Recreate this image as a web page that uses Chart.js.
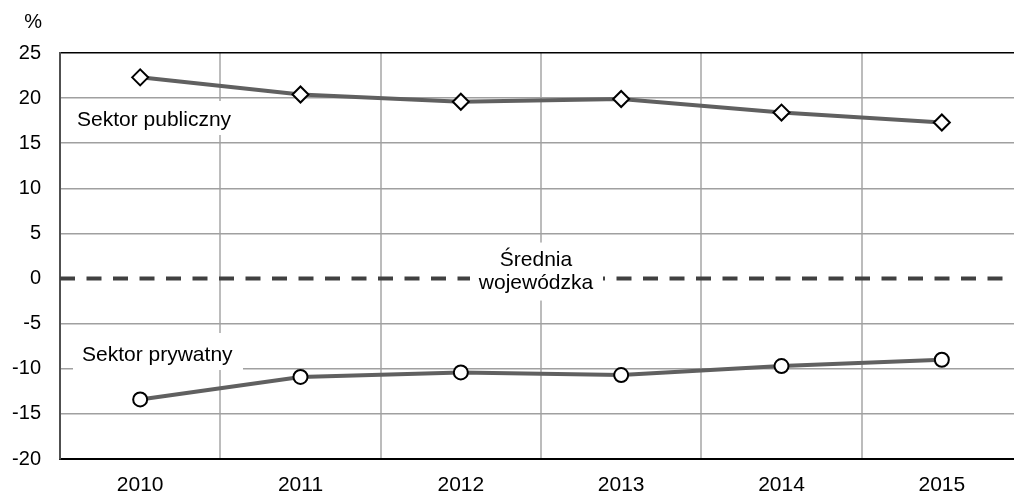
<!DOCTYPE html>
<html>
<head>
<meta charset="utf-8">
<script src="https://cdn.jsdelivr.net/npm/chart.js@4/dist/chart.umd.min.js"></script>
<style>
  html, body { margin: 0; padding: 0; background: #fff; overflow: hidden; }
  #wrap { position: absolute; left: 0; top: 0; width: 1032px; height: 494px; }
</style>
</head>
<body>
<div id="wrap"><canvas id="myChart" width="1032" height="494" style="width:1032px;height:494px"></canvas></div>
<script>
const years = ['2010', '2011', '2012', '2013', '2014', '2015']
const publicSector = [22.3, 20.4, 19.6, 19.9, 18.4, 17.3]
const privateSector = [-13.4, -10.9, -10.4, -10.7, -9.7, -9.0]
const yMin = -20
const yMax = 25
const yStep = 5

const FONT = '"Liberation Sans", Arial, sans-serif'

// dashed average line + text boxes drawn over the grid, under the lines
const notes = {
    id: 'notes',
    beforeDatasetsDraw(chart) {
        const ctx = chart.ctx
        const area = chart.chartArea
        const x = chart.scales.x
        const y = chart.scales.y
        const y0 = y.getPixelForValue(0)

        ctx.save()
        ctx.strokeStyle = '#404040'
        ctx.lineWidth = 4
        ctx.setLineDash([15, 11.5])
        ctx.beginPath()
        ctx.moveTo(area.left, y0)
        ctx.lineTo(area.right, y0)
        ctx.stroke()
        ctx.setLineDash([])

        const box = (x1, y1, x2, y2) => {
            ctx.fillStyle = '#fff'
            ctx.fillRect(x1, y1, x2 - x1, y2 - y1)
        }
        ctx.font = '21px ' + FONT
        ctx.textBaseline = 'middle'

        // Sektor publiczny
        box(area.left + 13, 101, area.left + 183, 135)
        ctx.fillStyle = '#000'
        ctx.textAlign = 'left'
        ctx.fillText('Sektor publiczny', area.left + 17, 120)

        // Sektor prywatny
        box(area.left + 13, 333, area.left + 183, 370)
        ctx.fillStyle = '#000'
        ctx.fillText('Sektor prywatny', area.left + 22, 355)

        // Średnia wojewódzka
        const cx = (x.getPixelForValue(2) + x.getPixelForValue(3)) / 2 - 5
        box(cx - 66, y0 - 36, cx + 67, y0 + 22)
        ctx.fillStyle = '#000'
        ctx.textAlign = 'center'
        ctx.fillText('Średnia', cx, y0 - 18)
        ctx.fillText('wojewódzka', cx, y0 + 5)

        // unit
        ctx.font = '20px ' + FONT
        ctx.textAlign = 'right'
        ctx.fillText('%', 42, 22)
        ctx.restore()
    }
}

const ctx = document.getElementById('myChart').getContext('2d')
const chart = new Chart(ctx, {
    type: 'line',
    data: {
        labels: years,
        datasets: [{
            label: 'Sektor publiczny',
            data: publicSector,
            borderColor: '#606060',
            borderWidth: 4,
            pointStyle: 'rectRot',
            pointRadius: 8,
            pointBackgroundColor: '#fff',
            pointBorderColor: '#000',
            pointBorderWidth: 2
        },
        {
            label: 'Sektor prywatny',
            data: privateSector,
            borderColor: '#606060',
            borderWidth: 4,
            pointStyle: 'circle',
            pointRadius: 7,
            pointBackgroundColor: '#fff',
            pointBorderColor: '#000',
            pointBorderWidth: 2
        }]
    },
    options: {
        responsive: false,
        animation: false,
        devicePixelRatio: 1,
        layout: { padding: { top: 53, right: 0, left: 0, bottom: 0 } },
        plugins: {
            legend: { display: false },
            tooltip: { enabled: false }
        },
        scales: {
            x: {
                offset: true,
                grid: {
                    offset: true,
                    color: '#bcbcbc',
                    lineWidth: 2,
                    drawTicks: false
                },
                border: { color: '#000', width: 2 },
                ticks: {
                    color: '#000',
                    font: { family: FONT, size: 21 },
                    padding: 14
                },
                afterFit: (scale) => { scale.height = 35 }
            },
            y: {
                min: yMin,
                max: yMax,
                grid: {
                    color: (c) => {
                        if (c.tick && c.tick.value === yMax) return '#000'
                        if (c.tick && c.tick.value === 0) return 'rgba(0,0,0,0)'
                        return '#a0a0a0'
                    },
                    lineWidth: 1.5,
                    drawTicks: false
                },
                border: { color: '#505050', width: 2 },
                ticks: {
                    stepSize: yStep,
                    color: '#000',
                    font: { family: FONT, size: 20 },
                    padding: 19
                },
                afterFit: (scale) => { scale.width = 60 }
            }
        }
    },
    plugins: [notes]
})
</script>
</body>
</html>
